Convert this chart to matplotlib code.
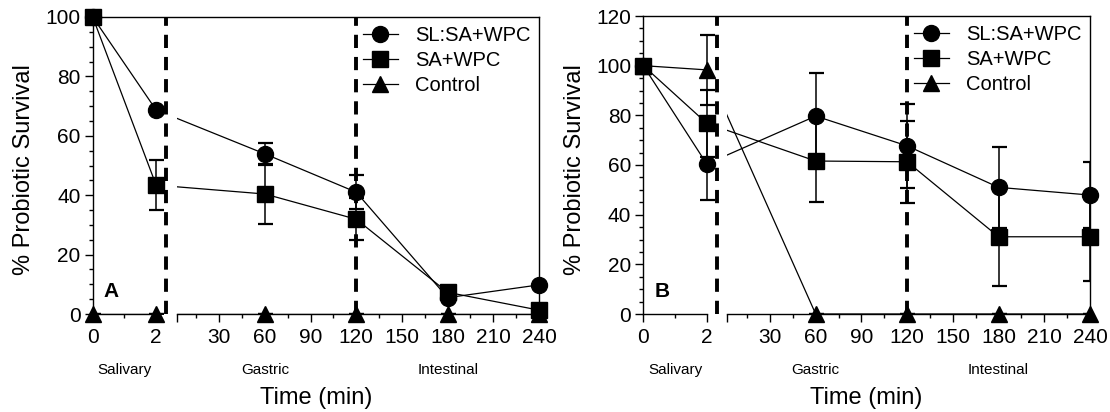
import numpy as np
import matplotlib
matplotlib.use("Agg")
import matplotlib.pyplot as plt
from matplotlib.lines import Line2D

plt.rcParams['font.family'] = ['Liberation Sans', 'DejaVu Sans']

# ---------------- data ----------------
time_min = [0, 2, 60, 120, 180, 240]
series_names = ["SL:SA+WPC", "SA+WPC", "Control"]

# Panel A
a_sl = [100, 68.7, 53.9, 41.0, 5.5, 9.8]
a_sl_err = [0, 0, 3.6, 5.8, 0, 0]
a_sa = [100, 43.4, 40.4, 31.9, 7.3, 1.3]
a_sa_err = [0, 8.3, 10.2, 7.0, 0, 0]
a_ctrl = [0, 0, 0, 0, 0, 0]
a_ctrl_err = [0, 0, 0, 0, 0, 0]

# Panel B
b_sl = [100, 60.4, 79.7, 67.7, 51.0, 47.9]
b_sl_err = [0, 14.5, 17.2, 16.9, 16.4, 13.4]
b_sa = [100, 76.8, 61.6, 61.3, 31.1, 31.1]
b_sa_err = [0, 13.4, 16.4, 16.5, 20.0, 18.0]
b_ctrl = [100, 98.3, 0, 0, 0, 0]
b_ctrl_err = [0, 14.0, 0, 0, 0, 0]

major_ticks = [0, 2, 30, 60, 90, 120, 150, 180, 210, 240]
minor_ticks = [1, 15, 45, 75, 105, 135, 165, 195, 225]
phases = ["Salivary", "Gastric", "Intestinal"]
phase_pos = [1, 60, 180]
phase_bounds = [120]

# ---------------- broken time scale ----------------
T_BREAK = 2.0
DELTA = 0.01
T_END = 240.0
SEG1_W, GAP_W, SEG2_K = 63.3, 20.5, 1.52
T_PTS = np.array([-10.0, 0.0, T_BREAK, T_BREAK + DELTA, T_END, T_END + 100])
U_PTS = np.array([-10 * SEG1_W / 2, 0.0, SEG1_W, SEG1_W + GAP_W,
                  SEG1_W + GAP_W + (T_END - T_BREAK - DELTA) * SEG2_K,
                  SEG1_W + GAP_W + (T_END - T_BREAK - DELTA + 100) * SEG2_K])


def fwd(t):
    return np.interp(t, T_PTS, U_PTS)


def inv(u):
    return np.interp(u, U_PTS, T_PTS)


W, H = 1110, 412
fig = plt.figure(figsize=(W / 100, H / 100), dpi=100)
axA = fig.add_axes([92.7 / W, 1 - 314 / H, 446.3 / W, 297 / H])
axB = fig.add_axes([643.3 / W, 1 - 314 / H, 446.7 / W, 298 / H])

styles = [dict(marker='o', ms=11.5), dict(marker='s', ms=11), dict(marker='^', ms=11)]


def draw_panel(ax, data, ymax, letter):
    ax.set_xscale('function', functions=(fwd, inv))
    ax.set_xlim(0, T_END)
    ax.set_ylim(0, ymax)
    # order: control, SL, SA (squares on top)
    order = [2, 0, 1]
    for i in order:
        y, e = data[i]
        ax.plot(time_min, y, '-', color='k', lw=0.9, zorder=2)
        ax.errorbar(time_min, y, yerr=e, fmt='none', ecolor='k', elinewidth=1.1,
                    capsize=5.4, capthick=1.6, zorder=3)
        ax.plot(time_min, y, linestyle='none', color='k', clip_on=False,
                zorder=3.5 + 0.1 * i, **styles[i])
    # hide lines crossing the axis break
    ax.axvspan(T_BREAK, T_BREAK + DELTA, color='white', lw=0, zorder=2.2)
    # phase boundaries
    for xb in [T_BREAK + DELTA / 2] + phase_bounds:
        ax.axvline(xb, ymin=0, ymax=0.995, color='k', lw=2.8,
                   linestyle=(0, (3.4, 2.3)), zorder=3.2)
    # broken bottom axis
    ax.spines['bottom'].set_visible(False)
    for x0, x1 in [(0, T_BREAK), (T_BREAK + DELTA, T_END)]:
        ax.plot([x0, x1], [0, 0], color='k', lw=1.0, clip_on=False, zorder=3.3)
    for s in ['top', 'right', 'left']:
        ax.spines[s].set_linewidth(1.0)
    ax.set_xticks(major_ticks[:2] + [T_BREAK + DELTA] + major_ticks[2:])
    ax.set_xticklabels([str(v) for v in major_ticks[:2]] + [''] +
                       [str(v) for v in major_ticks[2:]])
    ax.set_xticks(minor_ticks, minor=True)
    ax.set_yticks(np.arange(0, ymax + 1, 20))
    ax.set_yticks(np.arange(0, ymax + 1, 5), minor=True)
    ax.tick_params(which='major', direction='out', length=5.8, width=1.0,
                   labelsize=15, pad=3)
    ax.tick_params(which='minor', direction='out', length=3.2, width=1.0)
    ax.tick_params(axis='x', which='major', pad=4)
    for name, xp in zip(phases, phase_pos):
        ax.text(xp, -0.189, name, transform=ax.get_xaxis_transform(),
                ha='center', va='center', fontsize=11)
    ax.set_xlabel('Time (min)', fontsize=17)
    ax.xaxis.label.set_va('center')
    ax.xaxis.set_label_coords(0.5, -0.282)
    ax.set_ylabel('% Probiotic Survival', fontsize=17)
    ax.yaxis.label.set_va('center')
    ax.yaxis.set_label_coords(-0.154, 0.485)
    ax.text(0.042, 0.076, letter, transform=ax.transAxes, ha='center',
            va='center', fontsize=15, fontweight='bold')
    handles = [Line2D([], [], color='k', lw=0.9, **styles[i]) for i in range(3)]
    ax.legend(handles, series_names, loc='upper left', bbox_to_anchor=(0.605, 0.969),
              frameon=False, fontsize=14.5, handlelength=1.75, handletextpad=0.85,
              labelspacing=0.3, borderpad=0, borderaxespad=0)


draw_panel(axA, [(a_sl, a_sl_err), (a_sa, a_sa_err), (a_ctrl, a_ctrl_err)], 100, 'A')
draw_panel(axB, [(b_sl, b_sl_err), (b_sa, b_sa_err), (b_ctrl, b_ctrl_err)], 120, 'B')

fig.savefig('out.png', dpi=100)
